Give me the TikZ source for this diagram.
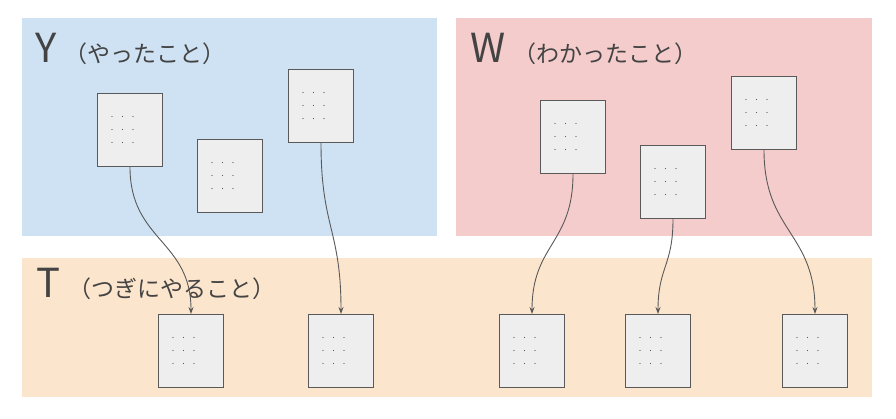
\documentclass[tikz,border=0pt]{standalone}
\usepackage{fontspec}
\setmainfont{Noto Sans CJK JP}
\usetikzlibrary{arrows.meta,calc}
\definecolor{pblue}{HTML}{CFE2F3}
\definecolor{ppink}{HTML}{F4CCCC}
\definecolor{porange}{HTML}{FCE5CD}
\definecolor{boxfill}{HTML}{EEEEEE}
\definecolor{boxline}{HTML}{595959}
\definecolor{titlecol}{HTML}{434343}
\definecolor{dotcol}{HTML}{555555}
\newcommand\mydotrow{\makebox[10.5pt][c]{.}\makebox[10.5pt][c]{.}\makebox[10.5pt][c]{.}}
\newcommand\mydots{\mydotrow\\\mydotrow\\\mydotrow}
\begin{document}
\begin{tikzpicture}[x=1pt,y=-1pt,
  panel/.style={draw=none,inner sep=0,anchor=north west},
  card/.style={draw=boxline,fill=boxfill,line width=1pt,minimum width=65pt,minimum height=73pt,inner sep=0,anchor=north west},
  dotsnode/.style={inner sep=0,anchor=west,align=left,text=dotcol,font=\fontsize{9}{13}\selectfont},
  titlenode/.style={inner sep=0,anchor=base west,text=titlecol},
  conn/.style={draw=boxline,line width=0.9pt,-{Stealth[length=7pt,width=5pt]}}]
\useasboundingbox (0,0) rectangle (896,418);
\fill[white] (0,0) rectangle (896,418);
% panels
\node[panel,fill=pblue,minimum width=415pt,minimum height=218pt] (py) at (22,18) {};
\node[panel,fill=ppink,minimum width=416pt,minimum height=218pt] (pw) at (456,18) {};
\node[panel,fill=porange,minimum width=850pt,minimum height=139pt] (pt) at (22,258) {};
% titles
\node[titlenode] (ty) at (35,62) {{\fontsize{40}{40}\selectfont Y}\hspace{8pt}{\fontsize{23}{23}\selectfont （やったこと）}};
\node[titlenode] (tw) at (470,62) {{\fontsize{40}{40}\selectfont W}\hspace{8pt}{\fontsize{23}{23}\selectfont （わかったこと）}};
\node[titlenode] (tt) at (36,297) {{\fontsize{40}{40}\selectfont T}\hspace{8pt}{\fontsize{23}{23}\selectfont （つぎにやること）}};
% cards
\foreach \n/\x/\y in {b1/97/93, b2/197/139, b3/288/69, w1/540/100, w2/640/145, w3/731/76, t1/158/314, t2/308/314, t3/499/314, t4/625/314, t5/782/314}{
  \node[card] (\n) at (\x,\y) {};
  \node[dotsnode] (\n d) at ($(\n.west)+(9.75,0)$) {\mydots};
}
% connectors
\draw[conn] (b1.south) .. controls +(0,74) and +(0,-74) .. (t1.north);
\draw[conn] (b3.south) .. controls +(0,85) and +(0,-85) .. (t2.north);
\draw[conn] (w1.south) .. controls +(0,70) and +(0,-70) .. (t3.north);
\draw[conn] (w2.south) .. controls +(0,47) and +(0,-47) .. (t4.north);
\draw[conn] (w3.south) .. controls +(0,82) and +(0,-82) .. (t5.north);
\end{tikzpicture}
\end{document}
